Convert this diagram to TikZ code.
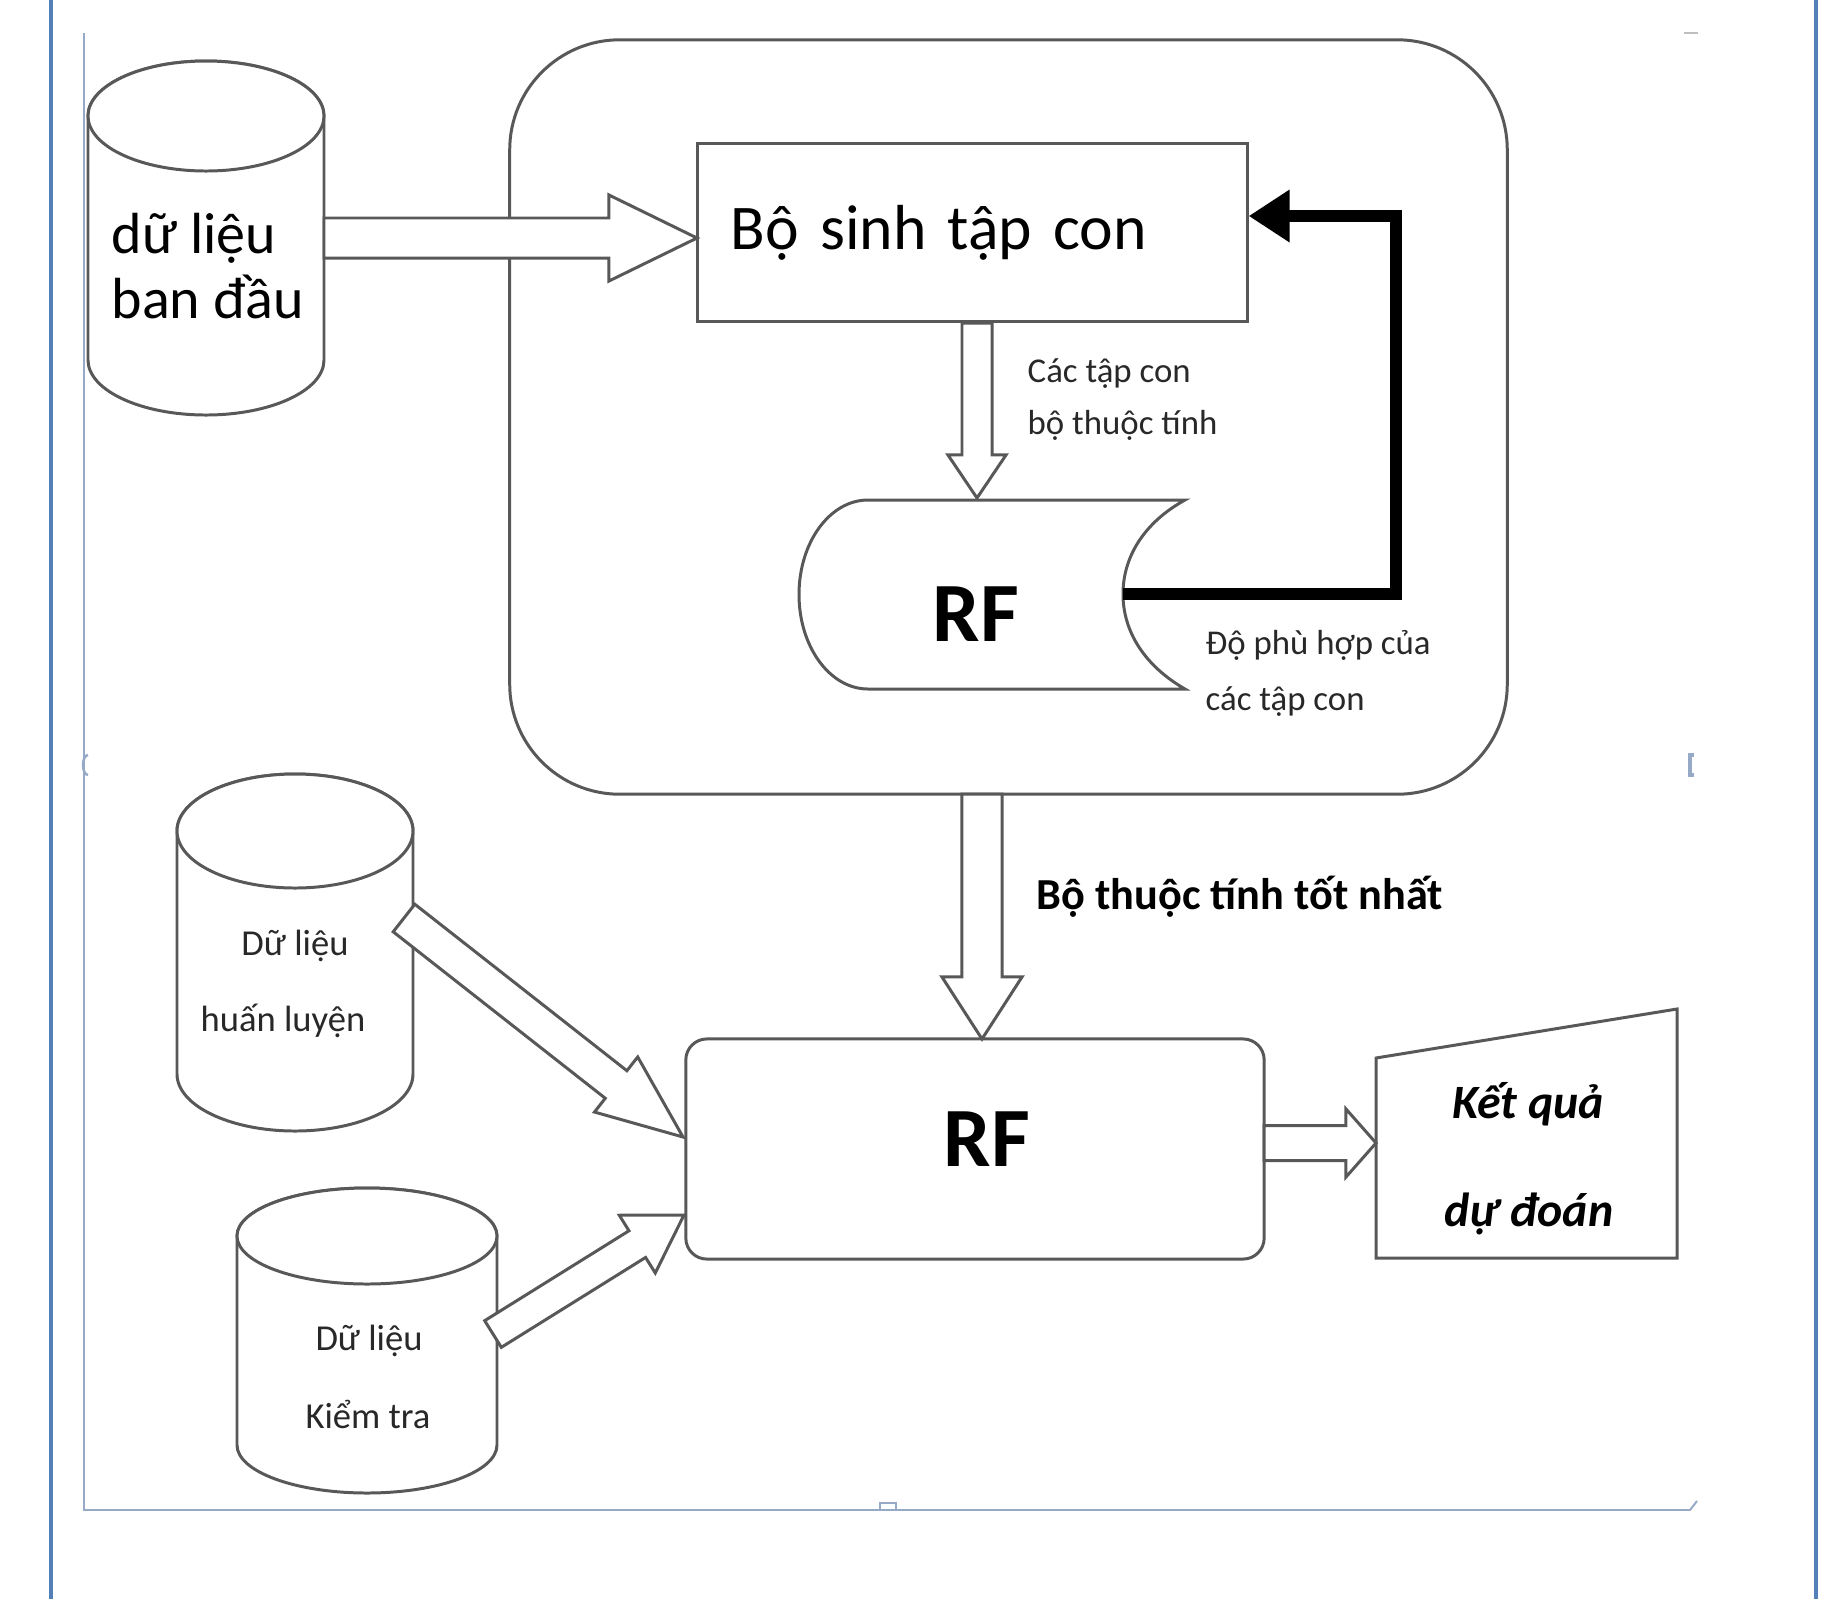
\documentclass[tikz,border=0pt]{standalone}
\usepackage{fontspec}
\setmainfont{Carlito}
\usetikzlibrary{calc,arrows.meta}

\definecolor{edge}{RGB}{88,88,88}
\definecolor{pageblue}{RGB}{84,128,184}
\definecolor{canvasline}{RGB}{150,170,200}
\definecolor{labelink}{RGB}{40,40,40}

\tikzset{
  shp/.style={draw=edge, line width=0.85pt, fill=white},
  blockarr/.style={draw=edge, line width=0.85pt, fill=white, line join=miter},
  feedback/.style={line width=3.4pt, black, line join=miter,
    -{Triangle[length=0.41cm,width=0.50cm]}},
  txt/.style={inner sep=0pt, text=black},
  smalltxt/.style={inner sep=0pt, text=labelink, font=\fontsize{9.9}{12}\selectfont},
  cyltxt/.style={inner sep=0pt, text=labelink, font=\fontsize{10.4}{12}\selectfont},
}

% hollow block arrow: tail, tip, shaft half width, head half width, head length
\newcommand\blockarrow[5]{%
  \coordinate (ba-base) at ($(#2)!#5!(#1)$);
  \path[blockarr] ($(#1)!#3!90:(#2)$) -- ($(ba-base)!#3!-90:(#1)$)
    -- ($(ba-base)!#4!-90:(#1)$) -- (#2) -- ($(ba-base)!#4!90:(#1)$)
    -- ($(ba-base)!#3!90:(#1)$) -- ($(#1)!#3!-90:(#2)$) -- cycle;
}

% database cylinder: centre x, top y, bottom y, x radius, y radius
\newcommand\dbcyl[5]{%
  \path[shp] (#1-#4,-#2-#5) -- (#1-#4,-#3+#5)
    arc[start angle=180,end angle=360,x radius=#4,y radius=#5]
    -- (#1+#4,-#2-#5)
    arc[start angle=0,end angle=180,x radius=#4,y radius=#5] -- cycle;
  \path[shp] (#1,-#2-#5) ellipse[x radius=#4,y radius=#5];
}

\begin{document}
\begin{tikzpicture}[x=0.01cm,y=0.01cm]
\useasboundingbox (0,0) rectangle (1832,-1599);
\fill[white] (0,0) rectangle (1832,-1599);

% page margins and drawing canvas
\draw[pageblue, line width=1.1pt] (51,0) -- (51,-1599);
\draw[pageblue, line width=1.1pt] (1816,0) -- (1816,-1599);
\draw[canvasline, line width=0.55pt] (84,-33) -- (84,-1510) -- (1690,-1510) -- (1697,-1501);
\draw[black!25, line width=0.6pt] (1684,-33) -- (1698,-33);
\draw[canvasline, line width=0.7pt] (88,-755) arc[start angle=90,end angle=270,x radius=5,y radius=10];
\draw[canvasline, line width=0.9pt] (1694,-755) -- (1690,-755) -- (1690,-775) -- (1694,-775);
\draw[canvasline, line width=0.7pt] (880,-1510) -- (880,-1503) -- (896,-1503) -- (896,-1510);

% feature selection block
\node[shp, rounded corners=1.1cm, minimum width=9.97cm, minimum height=7.54cm]
  (fs) at (1008.5,-417) {};
\node[shp, minimum width=5.49cm, minimum height=1.77cm, text width=4.83cm,
  align=left, inner xsep=0.33cm, font=\fontsize{18.1}{22}\selectfont]
  (gen) at (972.5,-232.5) {Bộ sinh tập con};

% stored-data shape of the inner random forest
\path[shp] (868,-500) -- (1185,-500)
  .. controls (1145,-522) and (1123,-556) .. (1123,-594)
  .. controls (1123,-632) and (1145,-666) .. (1185,-689)
  -- (868,-689)
  arc[start angle=270,end angle=90,x radius=69,y radius=94.5] -- cycle;
\node[txt, anchor=base, font=\bfseries\fontsize{24}{28}\selectfont]
  (rfin) at (976,-641) {RF};
\coordinate (rfin-out) at (1123,-594);
\coordinate (gen-in) at ($(gen.east)+(0,16.5)$);

% data sources
\dbcyl{206}{61}{415}{118}{55}
\node[txt, anchor=base west, font=\fontsize{16.5}{19}\selectfont] (rawa) at (111,-253) {dữ liệu};
\node[txt, anchor=base west, font=\fontsize{16.5}{19}\selectfont] (rawb) at (111,-318) {ban đầu};

\dbcyl{295}{774}{1131}{118}{57}
\node[cyltxt, anchor=base] (traina) at (295,-955) {Dữ liệu};
\node[cyltxt, anchor=base] (trainb) at (283,-1031) {huấn luyện};

\dbcyl{367}{1188}{1493}{130}{48}
\node[cyltxt, anchor=base] (testa) at (369,-1350) {Dữ liệu};
\node[cyltxt, anchor=base] (testb) at (368,-1428) {Kiểm tra};

% final classifier and result
\node[shp, rounded corners=0.21cm, minimum width=5.78cm, minimum height=2.20cm]
  (rf) at (975,-1149) {};
\node[txt, anchor=base, font=\bfseries\fontsize{24}{28}\selectfont]
  (rftext) at (987,-1166) {RF};

\path[shp] (1376,-1058) -- (1677,-1009) -- (1677,-1258) -- (1376,-1258) -- cycle;
\coordinate (res) at (1376,-1143);
\node[txt, anchor=base, font=\bfseries\itshape\fontsize{13.6}{16}\selectfont]
  (resa) at (1528,-1118) {Kết quả};
\node[txt, anchor=base, font=\bfseries\itshape\fontsize{13.6}{16}\selectfont]
  (resb) at (1529,-1226) {dự đoán};

% connection points
\coordinate (rawout) at (324,-238);
\coordinate (genin) at (697,-238);
\coordinate (genout) at (977,-323);
\coordinate (rfintop) at (977,-498);
\coordinate (fsout) at (982,-794);
\coordinate (rftop) at (982,-1039);
\coordinate (trainout) at (404,-918);
\coordinate (rfleftA) at (683,-1137);
\coordinate (testout) at (493,-1334);
\coordinate (rfleftB) at (684,-1215);
\coordinate (rfout) at (1264,-1143);

% block arrows
\blockarrow{rawout}{genin}{0.20cm}{0.43cm}{0.88cm}
\blockarrow{genout}{rfintop}{0.15cm}{0.29cm}{0.43cm}
\blockarrow{fsout}{rftop}{0.20cm}{0.40cm}{0.62cm}
\blockarrow{trainout}{rfleftA}{0.175cm}{0.35cm}{0.85cm}
\blockarrow{testout}{rfleftB}{0.157cm}{0.34cm}{0.55cm}
\blockarrow{rfout}{res}{0.175cm}{0.34cm}{0.30cm}

% fitness feedback
\draw[feedback] (rfin-out) -- (1396,-594) |- (gen-in);

% labels
\node[smalltxt, anchor=base west] (la1) at (1027,-382) {Các tập con};
\node[smalltxt, anchor=base west] (la2) at (1027,-434) {bộ thuộc tính};
\node[smalltxt, anchor=base west] (lb1) at (1205,-654) {Độ phù hợp của};
\node[smalltxt, anchor=base west] (lb2) at (1205,-710) {các tập con};
\node[txt, anchor=base west, font=\bfseries\fontsize{12.6}{15}\selectfont]
  (best) at (1036,-909) {Bộ thuộc tính tốt nhất};
\end{tikzpicture}
\end{document}
